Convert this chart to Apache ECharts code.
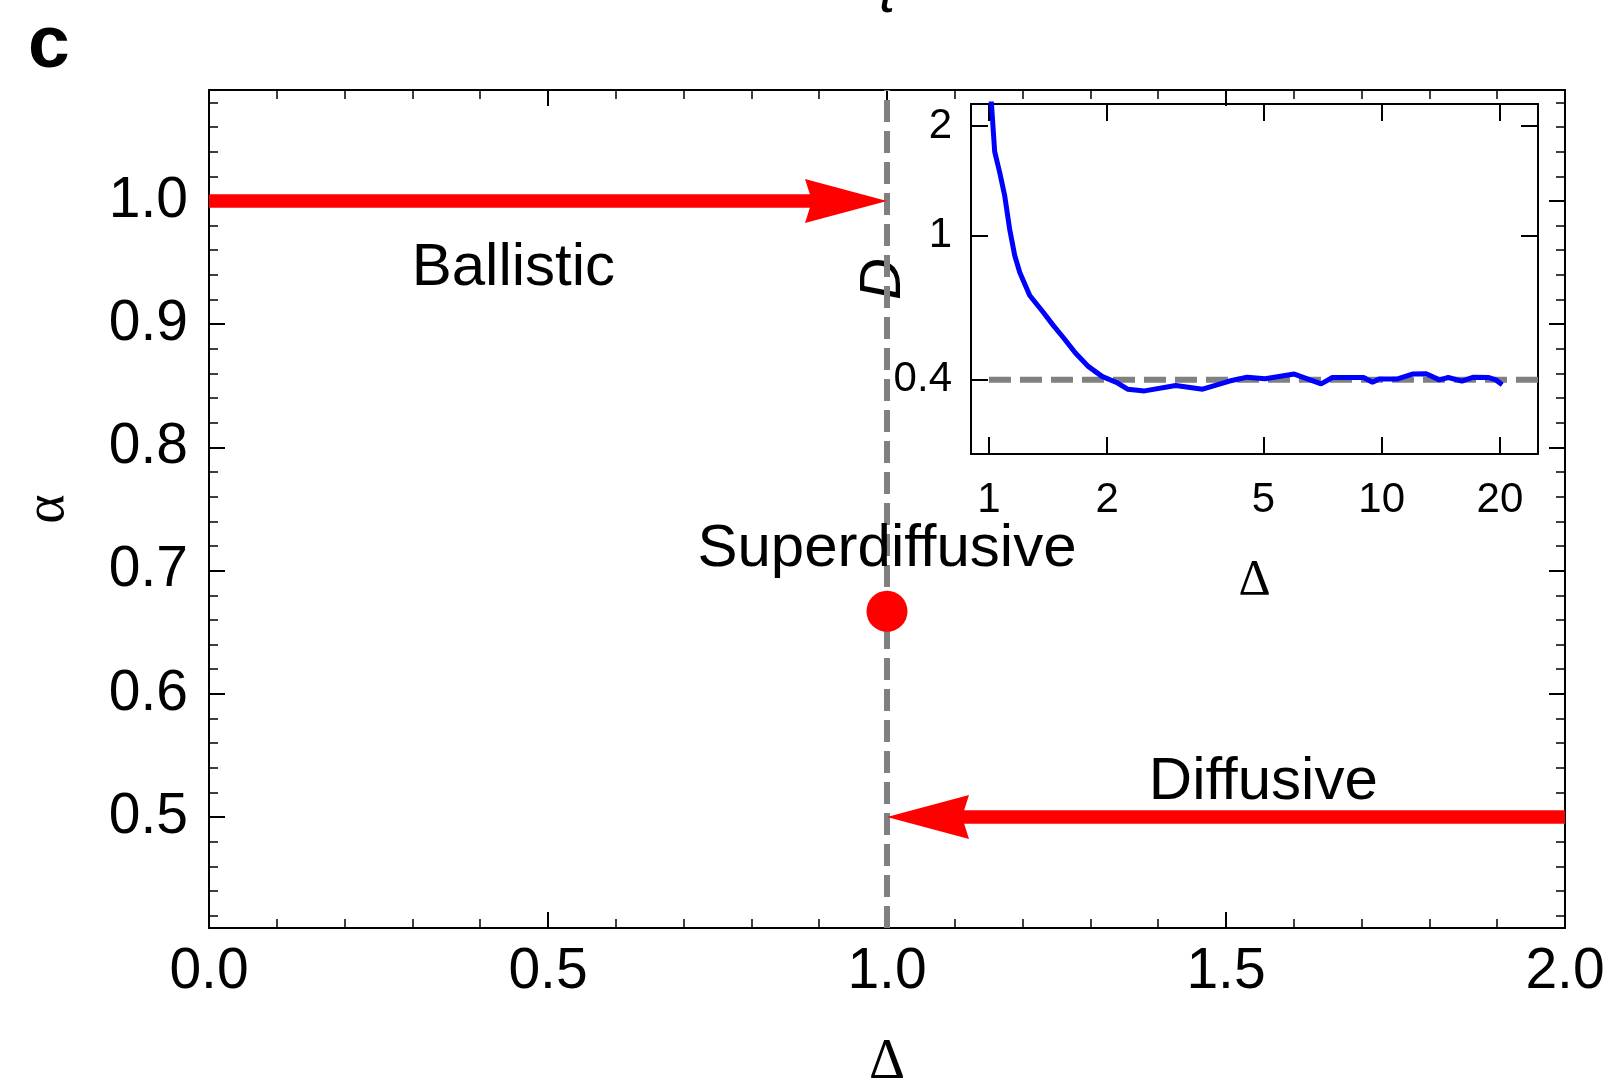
<!DOCTYPE html>
<html>
<head>
<meta charset="utf-8">
<script src="https://cdn.jsdelivr.net/npm/echarts@6/dist/echarts.min.js"></script>
<style>
  html, body { margin: 0; padding: 0; background: #ffffff; }
  #chart { width: 1613px; height: 1085px; }
</style>
</head>
<body>
<div id="chart"></div>
<script>
// ---- main panel: exponent alpha against Delta ----
const xTicks = [0, 0.5, 1.0, 1.5, 2.0];
const yTicks = [0.5, 0.6, 0.7, 0.8, 0.9, 1.0];
const xRange = [0, 2];
const yRange = [0.41, 1.09];

// critical Delta (vertical dashed line)
const criticalLine = [[1.0, 0.41], [1.0, 1.09]];
// flow arrows: [x start, y start, x end, y end]
const flowArrows = [[0.0, 1.0, 1.0, 1.0], [2.0, 0.5, 1.0, 0.5]];
// superdiffusive fixed point
const criticalPoint = [[1.0, 0.667]];
// regime names and where they sit (data coordinates)
const regimeNames = ['Ballistic', 'Superdiffusive', 'Diffusive'];
const regimePos = [[0.449, 0.945], [1.0, 0.717], [1.555, 0.528]];

// ---- inset: D against Delta (log-log) ----
const insetXTicks = [1, 2, 5, 10, 20];
const insetYTicks = [0.4, 1, 2];
const insetXRange = [0.9, 25];
const insetYRange = [0.25, 2.3];
const insetDelta = [1.0, 1.014, 1.034, 1.065, 1.096, 1.129, 1.163, 1.198, 1.27, 1.373,
  1.456, 1.553, 1.658, 1.793, 1.94, 2.127, 2.254, 2.49, 2.989, 3.5,
  4.097, 4.544, 5.05, 5.99, 7.01, 7.49, 8.99, 9.475, 9.85, 10.93,
  11.97, 12.98, 14.02, 14.78, 16.0, 17.14, 18.75, 19.52, 20.27];
const insetD = [2.45, 2.33, 1.70, 1.49, 1.29, 1.04, 0.88, 0.79, 0.683, 0.615,
  0.566, 0.52, 0.475, 0.435, 0.409, 0.392, 0.377, 0.373, 0.386, 0.377,
  0.397, 0.407, 0.403, 0.415, 0.390, 0.406, 0.406, 0.394, 0.402, 0.402,
  0.415, 0.416, 0.400, 0.406, 0.397, 0.407, 0.406, 0.400, 0.388];
const insetRefD = [[1, 0.4], [25, 0.4]];

// minor tick positions
const xMinor = [];
for (let i = 1; i < 20; i++) xMinor.push(+(i * 0.1).toFixed(2));
const yMinor = [];
for (let i = 21; i <= 54; i++) yMinor.push(+(i * 0.02).toFixed(2));

const BLACK = '#000000';
const RED = '#ff0000';
const GRAY = '#808080';
const SANS = '"Liberation Sans", Arial, Helvetica, sans-serif';
const SERIF = '"Liberation Serif", "Times New Roman", serif';

function frameAxis(opts) {
  return Object.assign({
    type: 'value',
    splitLine: { show: false },
    axisLine: { show: false, onZero: false, lineStyle: { color: BLACK, width: 2 } },
    axisLabel: { show: false },
    axisPointer: { show: false },
    nameMoveOverlap: false
  }, opts);
}

function ticks(values, length, width) {
  return { show: true, inside: true, length: length, customValues: values,
           lineStyle: { color: BLACK, width: width } };
}

const chart = echarts.init(document.getElementById('chart'), null, { renderer: 'canvas' });

const option = {
  animation: false,
  backgroundColor: '#ffffff',
  grid: [
    { left: 209, top: 90, width: 1356, height: 838, outerBoundsMode: 'none', containLabel: false },
    { left: 971, top: 104, width: 567, height: 350, outerBoundsMode: 'none', containLabel: false }
  ],
  xAxis: [
    // 0: main bottom, labelled
    frameAxis({
      gridIndex: 0, position: 'bottom', min: xRange[0], max: xRange[1],
      axisLine: { show: true, onZero: false, lineStyle: { color: BLACK, width: 2 } },
      axisTick: ticks(xTicks, 16, 2),
      axisLabel: { show: true, customValues: xTicks, formatter: v => v.toFixed(1),
                   fontSize: 57, fontFamily: SANS, color: BLACK, margin: 16 },
      name: 'Δ', nameLocation: 'middle', nameGap: 107,
      nameTextStyle: { fontSize: 56, fontFamily: SERIF, color: BLACK }
    }),
    // 1: main bottom minor ticks
    frameAxis({ gridIndex: 0, position: 'bottom', min: xRange[0], max: xRange[1],
                axisTick: ticks(xMinor, 9, 1.5) }),
    // 2: main top
    frameAxis({ gridIndex: 0, position: 'top', min: xRange[0], max: xRange[1],
                axisLine: { show: true, onZero: false, lineStyle: { color: BLACK, width: 2 } },
                axisTick: ticks(xTicks, 16, 2) }),
    // 3: main top minor ticks
    frameAxis({ gridIndex: 0, position: 'top', min: xRange[0], max: xRange[1],
                axisTick: ticks(xMinor, 9, 1.5) }),
    // 4: inset bottom, labelled
    frameAxis({
      type: 'log', logBase: 10, gridIndex: 1, position: 'bottom',
      min: insetXRange[0], max: insetXRange[1],
      axisLine: { show: true, onZero: false, lineStyle: { color: BLACK, width: 2 } },
      axisTick: ticks(insetXTicks, 17, 2),
      axisLabel: { show: true, customValues: insetXTicks, fontSize: 42, fontFamily: SANS,
                   color: BLACK, margin: 25 },
      minorTick: { show: false },
      name: 'Δ', nameLocation: 'middle', nameGap: 102,
      nameTextStyle: { fontSize: 50, fontFamily: SERIF, color: BLACK }
    }),
    // 5: inset top
    frameAxis({
      type: 'log', logBase: 10, gridIndex: 1, position: 'top',
      min: insetXRange[0], max: insetXRange[1],
      axisLine: { show: true, onZero: false, lineStyle: { color: BLACK, width: 2 } },
      axisTick: ticks(insetXTicks, 17, 2), minorTick: { show: false }
    })
  ],
  yAxis: [
    // 0: main left, labelled
    frameAxis({
      gridIndex: 0, position: 'left', min: yRange[0], max: yRange[1],
      axisLine: { show: true, onZero: false, lineStyle: { color: BLACK, width: 2 } },
      axisTick: ticks(yTicks, 16, 2),
      axisLabel: { show: true, customValues: yTicks, formatter: v => v.toFixed(1),
                   fontSize: 57, fontFamily: SANS, color: BLACK, margin: 21 },
      name: 'α', nameLocation: 'middle', nameGap: 133,
      nameTextStyle: { fontSize: 56, fontFamily: SERIF, color: BLACK }
    }),
    // 1: main left minor ticks
    frameAxis({ gridIndex: 0, position: 'left', min: yRange[0], max: yRange[1],
                axisTick: ticks(yMinor, 9, 1.5) }),
    // 2: main right
    frameAxis({ gridIndex: 0, position: 'right', min: yRange[0], max: yRange[1],
                axisLine: { show: true, onZero: false, lineStyle: { color: BLACK, width: 2 } },
                axisTick: ticks(yTicks, 16, 2) }),
    // 3: main right minor ticks
    frameAxis({ gridIndex: 0, position: 'right', min: yRange[0], max: yRange[1],
                axisTick: ticks(yMinor, 9, 1.5) }),
    // 4: inset left, labelled
    frameAxis({
      type: 'log', logBase: 10, gridIndex: 1, position: 'left',
      min: insetYRange[0], max: insetYRange[1],
      axisLine: { show: true, onZero: false, lineStyle: { color: BLACK, width: 2 } },
      axisTick: ticks(insetYTicks, 17, 2),
      axisLabel: { show: true, customValues: insetYTicks, fontSize: 42, fontFamily: SANS,
                   color: BLACK, margin: 19 },
      minorTick: { show: false },
      name: 'D', nameLocation: 'middle', nameGap: 58,
      nameTextStyle: { fontSize: 58, fontFamily: SANS, fontStyle: 'italic', color: BLACK }
    }),
    // 5: inset right
    frameAxis({
      type: 'log', logBase: 10, gridIndex: 1, position: 'right',
      min: insetYRange[0], max: insetYRange[1],
      axisLine: { show: true, onZero: false, lineStyle: { color: BLACK, width: 2 } },
      axisTick: ticks(insetYTicks, 17, 2), minorTick: { show: false }
    })
  ],
  graphic: [
    { type: 'text', x: 28, y: 46, silent: true,
      style: { text: 'c', fontSize: 75, fontWeight: 'bold', fontFamily: SANS, fill: BLACK,
               align: 'left', verticalAlign: 'middle' } },
    { type: 'text', x: 887, y: -4, silent: true,
      style: { text: 't', fontSize: 58, fontStyle: 'italic', fontFamily: SANS, fill: BLACK,
               align: 'center', verticalAlign: 'middle' } }
  ],
  series: [
    {
      name: 'critical Delta', type: 'line', xAxisIndex: 0, yAxisIndex: 0,
      data: criticalLine, showSymbol: false, silent: true, z: 2,
      lineStyle: { color: GRAY, width: 6, type: [22, 9] }
    },
    {
      name: 'flow', type: 'custom', xAxisIndex: 0, yAxisIndex: 0, silent: true, z: 3,
      clip: false,
      encode: { x: [0, 2], y: [1, 3] },
      data: flowArrows,
      renderItem: function (params, api) {
        const a = api.coord([api.value(0), api.value(1)]);
        const b = api.coord([api.value(2), api.value(3)]);
        const dx = b[0] - a[0], dy = b[1] - a[1];
        const len = Math.sqrt(dx * dx + dy * dy);
        const ux = dx / len, uy = dy / len;
        const nx = -uy, ny = ux;
        const headLen = 82, halfW = 22, notch = 7;
        const bx = b[0] - ux * headLen, by = b[1] - uy * headLen;
        const mx = b[0] - ux * (headLen - notch - 2), my = b[1] - uy * (headLen - notch - 2);
        return {
          type: 'group',
          children: [
            { type: 'line', shape: { x1: a[0], y1: a[1], x2: mx, y2: my },
              style: { stroke: RED, lineWidth: 13.5 } },
            { type: 'polygon',
              shape: { points: [
                [b[0], b[1]],
                [bx + nx * halfW, by + ny * halfW],
                [b[0] - ux * (headLen - notch), b[1] - uy * (headLen - notch)],
                [bx - nx * halfW, by - ny * halfW]
              ] },
              style: { fill: RED } }
          ]
        };
      }
    },
    {
      name: 'fixed point', type: 'scatter', xAxisIndex: 0, yAxisIndex: 0,
      data: criticalPoint, symbol: 'circle', symbolSize: 41, silent: true, z: 4,
      itemStyle: { color: RED, opacity: 1 }
    },
    {
      name: 'regimes', type: 'custom', xAxisIndex: 0, yAxisIndex: 0, silent: true, z: 5,
      data: regimePos,
      renderItem: function (params, api) {
        const p = api.coord([api.value(0), api.value(1)]);
        return {
          type: 'text', x: p[0], y: p[1],
          style: { text: regimeNames[params.dataIndex], fontSize: 60, fontFamily: SANS,
                   fill: BLACK, align: 'center', verticalAlign: 'middle' }
        };
      }
    },
    {
      name: 'D reference', type: 'line', xAxisIndex: 4, yAxisIndex: 4,
      data: insetRefD, showSymbol: false, silent: true, z: 2, clip: false,
      lineStyle: { color: GRAY, width: 6, type: [22, 9] }
    },
    {
      name: 'D', type: 'line', xAxisIndex: 4, yAxisIndex: 4,
      data: insetDelta.map((d, i) => [d, insetD[i]]),
      showSymbol: false, silent: true, z: 3, clip: true,
      lineStyle: { color: '#0000ff', width: 5 }
    }
  ]
};

chart.setOption(option);
</script>
</body>
</html>
